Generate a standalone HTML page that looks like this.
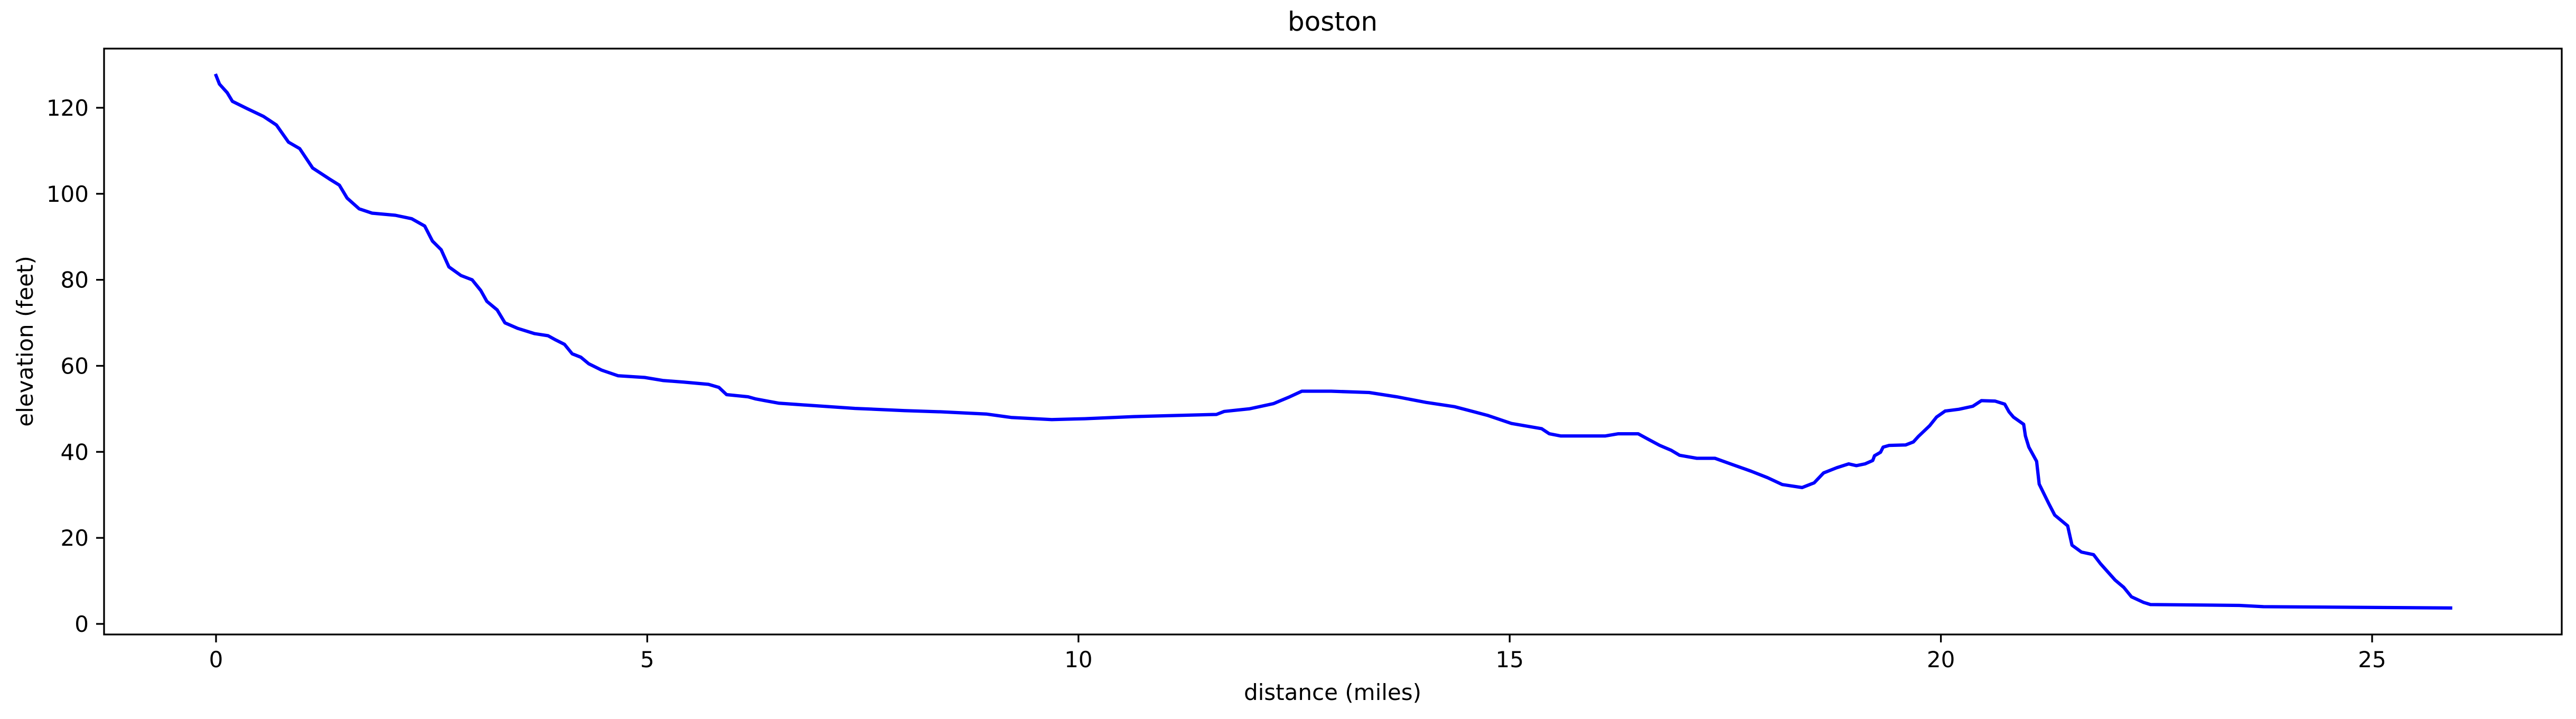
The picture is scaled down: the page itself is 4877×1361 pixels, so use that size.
<!DOCTYPE html>
<html><head><meta charset="utf-8"><style>
html,body{margin:0;padding:0;background:#fff;}
svg{display:block;font-family:"DejaVu Sans","Liberation Sans",sans-serif;}
</style></head><body>
<svg id="chart" width="4877" height="1361" viewBox="0 0 4877 1361" xmlns="http://www.w3.org/2000/svg">
<rect width="4877" height="1361" fill="#fff"/>
<text x="2523" y="58" font-size="50" text-anchor="middle">boston</text>
<g id="xticks"></g><g id="yticks"></g>
<path id="line" fill="none" stroke="#0000ff" stroke-width="6.25" stroke-linejoin="round" stroke-linecap="square"/>
<rect x="197" y="92" width="4653" height="1109" fill="none" stroke="#000" stroke-width="3.3"/>
<text x="2523" y="1325" font-size="42" text-anchor="middle">distance (miles)</text>
<text transform="translate(62,646) rotate(-90)" font-size="42" text-anchor="middle">elevation (feet)</text>
</svg>
<script>
const distances=[0,0.04,0.13,0.19,0.36,0.55,0.70,0.84,0.97,1.12,1.31,1.43,1.52,1.66,1.81,2.08,2.27,2.42,2.51,2.61,2.70,2.84,2.97,3.07,3.14,3.26,3.35,3.50,3.69,3.85,3.94,4.04,4.13,4.23,4.32,4.47,4.66,4.97,5.18,5.43,5.71,5.83,5.92,6.17,6.26,6.42,6.53,7.41,7.98,8.42,8.93,9.22,9.69,10.07,10.64,11.21,11.60,11.69,11.98,12.26,12.45,12.59,12.93,13.37,13.69,14.03,14.36,14.74,15.02,15.37,15.46,15.59,15.78,16.11,16.26,16.49,16.60,16.74,16.87,16.97,17.17,17.38,17.59,17.80,17.99,18.16,18.39,18.53,18.64,18.79,18.93,19.02,19.12,19.21,19.23,19.30,19.33,19.40,19.59,19.68,19.74,19.87,19.95,20.05,20.21,20.37,20.47,20.63,20.74,20.79,20.84,20.96,20.98,21.02,21.11,21.14,21.25,21.32,21.47,21.52,21.63,21.77,21.85,22.02,22.12,22.21,22.35,22.43,23.46,23.74,25.91];
const elevations=[127.5,125.5,123.5,121.5,119.8,118,116,112,110.5,106,103.5,102,99,96.5,95.5,95,94.2,92.5,89,87,83,81,80,77.5,75,73,70,68.7,67.5,67,66,65,62.8,62,60.5,59,57.7,57.3,56.6,56.2,55.7,55,53.3,52.8,52.3,51.7,51.3,50.1,49.6,49.3,48.8,48,47.5,47.7,48.2,48.5,48.7,49.4,50,51.2,52.8,54.1,54.1,53.8,52.8,51.5,50.5,48.5,46.6,45.4,44.2,43.7,43.7,43.7,44.2,44.2,43,41.5,40.4,39.2,38.5,38.5,37,35.5,34,32.4,31.7,32.8,35.1,36.3,37.2,36.8,37.2,38.0,39.1,39.9,41.1,41.5,41.6,42.3,43.6,46.1,48.1,49.5,49.9,50.6,51.9,51.8,51.1,49.3,48.1,46.4,43.7,41.1,37.8,32.5,28.0,25.3,22.8,18.3,16.7,16.1,14.0,10.2,8.5,6.3,5.0,4.5,4.3,4.0,3.7];
const xTickLabels=[0,5,10,15,20,25];
const yTickLabels=[0,20,40,60,80,100,120];
function sx(v){return 409+(4491-409)*v/25;}
function sy(v){return 1181-(1181-204)*v/120;}
const NS="http://www.w3.org/2000/svg";
let d="";
for(let i=0;i<distances.length;i++){d+=(i?"L":"M")+sx(distances[i]).toFixed(1)+" "+sy(elevations[i]).toFixed(1);}
document.getElementById("line").setAttribute("d",d);
const xg=document.getElementById("xticks");
xTickLabels.forEach(t=>{
 const l=document.createElementNS(NS,"line");
 
 
 l.setAttribute("x1",sx(t));l.setAttribute("x2",sx(t));l.setAttribute("y1",1201);l.setAttribute("y2",1216);
 l.setAttribute("stroke","#000");l.setAttribute("stroke-width","3.3");xg.appendChild(l);
 const tx=document.createElementNS(NS,"text");
 
 
 tx.setAttribute("x",sx(t));tx.setAttribute("y",1263);tx.setAttribute("font-size","42");tx.setAttribute("text-anchor","middle");
 tx.textContent=t;xg.appendChild(tx);
});
const yg=document.getElementById("yticks");
yTickLabels.forEach(t=>{
 const l=document.createElementNS(NS,"line");
 
 
 l.setAttribute("x1",182);l.setAttribute("x2",197);l.setAttribute("y1",sy(t));l.setAttribute("y2",sy(t));
 l.setAttribute("stroke","#000");l.setAttribute("stroke-width","3.3");yg.appendChild(l);
 const tx=document.createElementNS(NS,"text");
 
 
 tx.setAttribute("x",168);tx.setAttribute("y",sy(t)+15);tx.setAttribute("font-size","42");tx.setAttribute("text-anchor","end");
 tx.textContent=t;yg.appendChild(tx);
});
</script>
</body></html>
